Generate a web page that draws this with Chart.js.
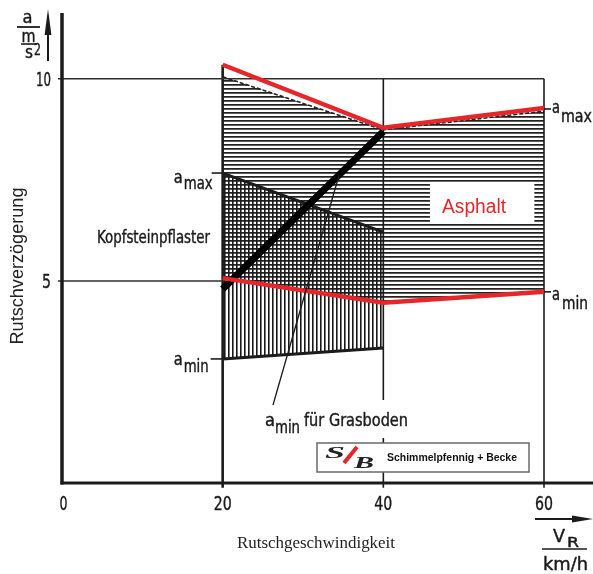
<!DOCTYPE html>
<html>
<head>
<meta charset="utf-8">
<script src="https://cdn.jsdelivr.net/npm/chart.js@4/dist/chart.umd.min.js"></script>
<style>
  html, body { margin: 0; padding: 0; background: #fff; }
  canvas { display: block; }
</style>
</head>
<body>
<canvas id="chart" width="593" height="574"></canvas>
<script>
// Rutschverzögerung a [m/s²] über Rutschgeschwindigkeit V_R [km/h]
const speeds = [20, 40, 60];
const asphaltMax = [10.35, 8.79, 9.28];
const asphaltMin = [5.07, 4.46, 4.73];
const asphaltHatchTop = [10.05, 8.74, 9.2];

const cobbleSpeeds = [20, 40];
const cobbleMax = [7.67, 6.21];
const cobbleMin = [3.07, 3.34];

const grassSpeeds = [20, 40];
const grassMin = [4.8, 8.7];

const xTicks = [0, 20, 40, 60];
const yTicks = [5, 10];
const gridSpeeds = [20, 40, 60];

const RED = '#e5262b';
const INK = '#1b1b1b';
const COND = '"DejaVu Sans Condensed", "DejaVu Sans", sans-serif';

const pts = (xs, ys) => xs.map((x, i) => ({ x, y: ys[i] }));

const canvas = document.getElementById('chart');
const ctx = canvas.getContext('2d');

function makePattern(w, h, paint) {
  const c = document.createElement('canvas');
  c.width = w; c.height = h;
  paint(c.getContext('2d'));
  return ctx.createPattern(c, 'repeat');
}
// horizontal hatching (Asphalt)
const hPattern = makePattern(8, 4, g => {
  g.fillStyle = 'rgba(35,35,35,1)';
  g.fillRect(0, 0, 8, 1);
  g.fillStyle = 'rgba(35,35,35,0.75)';
  g.fillRect(0, 1, 8, 1);
});
// vertical hatching (Kopfsteinpflaster)
const vPattern = makePattern(4, 8, g => {
  g.fillStyle = 'rgba(25,25,25,1)';
  g.fillRect(0, 0, 1, 8);
  g.fillStyle = 'rgba(25,25,25,0.6)';
  g.fillRect(1, 0, 1, 8);
});

const base = { fill: false, pointRadius: 0, tension: 0, clip: false, borderCapStyle: 'butt' };

const datasets = [];
const idxAsphaltMin = 1;
const idxCobbleMin = 3;

datasets.push(Object.assign({}, base, {
  label: 'Asphalt Schraffur', data: pts(speeds, asphaltHatchTop),
  borderColor: '#222', borderWidth: 1.6, borderDash: [4, 2],
  fill: { target: idxAsphaltMin }, backgroundColor: hPattern, order: 10
}));
datasets.push(Object.assign({}, base, {
  label: 'Asphalt a_min', data: pts(speeds, asphaltMin),
  borderColor: RED, borderWidth: 4.5, order: 1
}));
datasets.push(Object.assign({}, base, {
  label: 'Kopfsteinpflaster a_max', data: pts(cobbleSpeeds, cobbleMax),
  borderColor: INK, borderWidth: 3, fill: { target: idxCobbleMin },
  backgroundColor: vPattern, order: 9
}));
datasets.push(Object.assign({}, base, {
  label: 'Kopfsteinpflaster a_min', data: pts(cobbleSpeeds, cobbleMin),
  borderColor: INK, borderWidth: 3, order: 4
}));
// grid lines
datasets.push(Object.assign({}, base, {
  label: 'Gitter 10', data: [{ x: -0.5, y: yTicks[1] }, { x: gridSpeeds[2], y: yTicks[1] }],
  borderColor: '#2f2f2f', borderWidth: 1.5, order: 8
}));
datasets.push(Object.assign({}, base, {
  label: 'Gitter 5', data: [{ x: -0.5, y: yTicks[0] }, { x: gridSpeeds[0], y: yTicks[0] }],
  borderColor: '#2f2f2f', borderWidth: 1.5, order: 8
}));
datasets.push(Object.assign({}, base, {
  label: 'Gitter 20', data: [{ x: gridSpeeds[0], y: -0.12 }, { x: gridSpeeds[0], y: asphaltMax[0] }],
  borderColor: INK, borderWidth: 2.6, order: 8
}));
datasets.push(Object.assign({}, base, {
  label: 'Gitter 40', data: [{ x: gridSpeeds[1], y: -0.12 }, { x: gridSpeeds[1], y: yTicks[1] }],
  borderColor: INK, borderWidth: 1.6, order: 8
}));
datasets.push(Object.assign({}, base, {
  label: 'Gitter 60', data: [{ x: gridSpeeds[2], y: -0.12 }, { x: gridSpeeds[2], y: yTicks[1] }],
  borderColor: INK, borderWidth: 1.6, order: 8
}));
datasets.push(Object.assign({}, base, {
  label: 'Grasboden a_min', data: pts(grassSpeeds, grassMin),
  borderColor: '#000', borderWidth: 7, order: 2
}));
datasets.push(Object.assign({}, base, {
  label: 'Asphalt a_max', data: pts(speeds, asphaltMax),
  borderColor: RED, borderWidth: 4.5, order: 1
}));

// fitted text: scales horizontally to the given width; optional thin outline for heavier strokes
function txt(g, str, x, y, font, w, align, color, heavy) {
  g.save();
  g.font = font;
  g.fillStyle = color || INK;
  g.strokeStyle = color || INK;
  g.textBaseline = 'alphabetic';
  const m = g.measureText(str).width;
  const sx = w ? w / m : 1;
  g.translate(x, y);
  g.scale(sx, 1);
  g.textAlign = align || 'left';
  g.fillText(str, 0, 0);
  if (heavy) {
    g.lineWidth = heavy;
    g.lineJoin = 'round';
    g.strokeText(str, 0, 0);
  }
  g.restore();
}
function line(g, x1, y1, x2, y2, w, color) {
  g.save();
  g.strokeStyle = color || INK;
  g.lineWidth = w;
  g.beginPath(); g.moveTo(x1, y1); g.lineTo(x2, y2); g.stroke();
  g.restore();
}
function tri(g, a, b, c) {
  g.save();
  g.fillStyle = INK;
  g.beginPath(); g.moveTo(a[0], a[1]); g.lineTo(b[0], b[1]); g.lineTo(c[0], c[1]); g.closePath(); g.fill();
  g.restore();
}

const annotations = {
  id: 'annotations',
  afterDatasetsDraw(chart) {
    const g = chart.ctx;
    const xs = chart.scales.x, ys = chart.scales.y;
    const px = v => xs.getPixelForValue(v);
    const py = v => ys.getPixelForValue(v);
    const area = chart.chartArea;
    const H = 0.4; // stroke weight for the drawing lettering

    // axes
    line(g, px(0), area.top, px(0), py(0) + 1.5, 3.5);
    line(g, px(0) - 1.5, py(0), area.right, py(0), 3);

    // tick labels
    const tickFont = '20px ' + COND;
    xTicks.forEach(v => {
      const s = String(v);
      txt(g, s, px(v) + (v === 0 ? 1.5 : 0), py(0) + 27, tickFont, s.length === 1 ? 8 : 18, 'center', INK, H);
    });
    yTicks.forEach(v => {
      const s = String(v);
      txt(g, s, px(0) - 11, py(v) + 7, tickFont, s.length === 1 ? 9 : 15, 'right', INK, H);
    });

    // y unit a / (m / s²) with arrow
    const uf = '17px ' + COND;
    txt(g, 'a', 27.5, 23, '18px ' + COND, 10, 'center', INK, H);
    line(g, 17, 27, 40, 27, 1.8);
    txt(g, 'm', 28.5, 42, '18px ' + COND, 14, 'center', INK, H);
    line(g, 21, 44, 37, 44, 1.6);
    txt(g, 's', 25, 58, '18px ' + COND, 8, 'left', INK, H);
    txt(g, '2', 34, 55, '15px ' + COND, 7, 'left', INK, H);
    line(g, 48, 61, 48, 30, 2);
    tri(g, [48, 9], [44.6, 35], [51.4, 35]);

    // x unit V_R / km/h with arrow
    line(g, 535, 519, 578, 519, 2);
    tri(g, [593, 519], [572, 515.5], [572, 522.5]);
    txt(g, 'V', 553, 542, uf, 12, 'left', INK, H);
    txt(g, 'R', 567, 547, '14px ' + COND, 12, 'left', INK, H);
    line(g, 542, 549, 587, 549, 1.6);
    txt(g, 'km/h', 543, 570, uf, 45, 'left', INK, H);

    // axis titles
    txt(g, 'Rutschgeschwindigkeit', 237, 548, '16px "Liberation Serif", "Times New Roman", serif', 158, 'left', '#222');
    g.save();
    g.translate(23, 266);
    g.rotate(-Math.PI / 2);
    txt(g, 'Rutschverzögerung', 0, 0, '18px "Liberation Sans", Arial, sans-serif', 157, 'center', '#222');
    g.restore();

    // Kopfsteinpflaster labels
    const x20 = px(cobbleSpeeds[0]);
    txt(g, 'Kopfsteinpflaster', 97, 243, '17px ' + COND, 113, 'left', INK, H);
    const yKmax = py(cobbleMax[0]), yKmin = py(cobbleMin[0]);
    line(g, x20 - 11, yKmax, x20, yKmax, 1.6);
    txt(g, 'a', x20 - 49, yKmax + 10, uf, 9, 'left', INK, H);
    txt(g, 'max', x20 - 39, yKmax + 16, uf, 29, 'left', INK, H);
    line(g, x20 - 12, yKmin, x20, yKmin, 1.6);
    txt(g, 'a', x20 - 49, yKmin + 6, uf, 9, 'left', INK, H);
    txt(g, 'min', x20 - 39, yKmin + 13, uf, 25, 'left', INK, H);

    // Asphalt labels at 60 km/h
    const x60 = px(speeds[2]);
    const yAmax = py(asphaltMax[2]), yAmin = py(asphaltMin[2]);
    line(g, x60, yAmax + 1, x60 + 7, yAmax + 1, 1.6);
    txt(g, 'a', x60 + 8, yAmax + 5, uf, 8, 'left', INK, H);
    txt(g, 'max', x60 + 17, yAmax + 14, uf, 31, 'left', INK, H);
    line(g, x60, yAmin, x60 + 7, yAmin, 1.6);
    txt(g, 'a', x60 + 8, yAmin + 8, uf, 8, 'left', INK, H);
    txt(g, 'min', x60 + 18, yAmin + 17, uf, 26, 'left', INK, H);

    // Asphalt name box
    g.save();
    g.fillStyle = '#fff';
    g.fillRect(px(45.8), py(7.45), px(58.8) - px(45.8), py(6.45) - py(7.45));
    g.restore();
    txt(g, 'Asphalt', 442, 213, '20px "Liberation Sans", Arial, sans-serif', 64, 'left', RED);

    // Grasboden label with leader line
    const lx = 273, ly = 405;
    const tx = 34.5;
    const ty = grassMin[0] + (tx - grassSpeeds[0]) / (grassSpeeds[1] - grassSpeeds[0]) * (grassMin[1] - grassMin[0]);
    line(g, lx, ly, px(tx), py(ty), 1.3);
    g.save();
    g.fillStyle = '#fff';
    g.fillRect(303, 400, 108, 38);
    g.restore();
    txt(g, 'a', 265, 426, uf, 10, 'left', INK, H);
    txt(g, 'min', 275, 433, uf, 25, 'left', INK, H);
    txt(g, 'für Grasboden', 304, 426, uf, 104, 'left', INK, H);

    // company box
    g.save();
    g.fillStyle = '#fff';
    g.fillRect(317, 443, 212, 29);
    g.strokeStyle = '#6a6a6a';
    g.lineWidth = 1.5;
    g.strokeRect(317, 443, 212, 29);
    g.restore();
    txt(g, 'S', 325, 458, 'italic bold 17px "Liberation Serif", serif', 20, 'left', '#222');
    line(g, 344, 463, 357, 447, 4, RED);
    txt(g, 'B', 354, 468, 'italic bold 16px "Liberation Serif", serif', 20, 'left', '#222');
    txt(g, 'Schimmelpfennig + Becke', 387, 461, 'bold 11.5px "Liberation Sans", Arial, sans-serif', 130, 'left', '#111');
  }
};

new Chart(ctx, {
  type: 'line',
  data: { datasets },
  options: {
    responsive: false,
    devicePixelRatio: 1,
    animation: false,
    events: [],
    layout: { padding: { left: 62, top: 13, right: 0, bottom: 91 } },
    scales: {
      x: { type: 'linear', min: 0, max: 66.1, display: false },
      y: { type: 'linear', min: 0, max: 11.63, display: false }
    },
    plugins: {
      legend: { display: false },
      tooltip: { enabled: false },
      filler: { propagate: false }
    }
  },
  plugins: [annotations]
});
</script>
</body>
</html>
